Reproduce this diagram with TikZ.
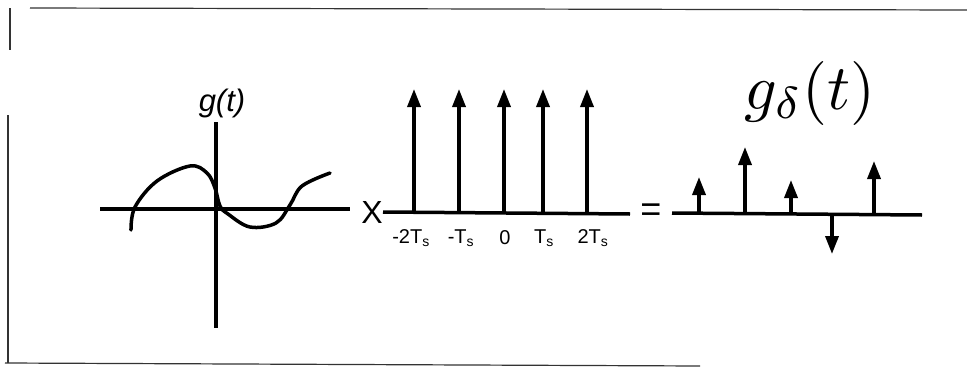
\documentclass[tikz,border=0pt]{standalone}
\usepackage{fontspec}
\setmainfont{Liberation Sans}
\usetikzlibrary{arrows.meta}
\tikzset{
  axis/.style={line width=3.5pt},
  spike/.style={line width=3.5pt,-{Triangle[length=18pt,width=13pt]}},
  frame/.style={line width=1.2pt,black!80},
  tick/.style={font=\fontsize{20}{20}\selectfont,inner sep=0pt}
}
\begin{document}
\begin{tikzpicture}[x=1pt,y=-1pt]
\useasboundingbox (0,0) rectangle (967,367);
% scanned page border
\draw[frame] (30,8)--(967,10);
\draw[frame] (10,8)--(10,50);
\draw[frame] (8,115)--(8,363);
\draw[frame] (5,363)--(700,366);

% left: g(t)
\node[font=\fontsize{31}{31}\selectfont\itshape,inner sep=0pt] (glab) at (222,103) {g(t)};
\draw[axis] (100,209)--(350,209);
\draw[axis] (216,122)--(216,328);
\draw[line width=3.5pt,line cap=round] plot[smooth,tension=0.6] coordinates
  {(131,230) (135,207) (157,181) (190,166) (207,173) (215,188) (220,206) (228,214) (250,227) (276,223) (290,205) (302,186) (330,173)};

% times
\node[font=\fontsize{32}{32}\selectfont,inner sep=0pt] (times) at (372,212) {X};

% middle: impulse train
\draw[axis] (383,212)--(630,214);
\foreach \xv/\tx/\lv in {414/411/{-2T\textsubscript{s}},459/461/{-T\textsubscript{s}},504/505/{0},543/544/{T\textsubscript{s}},587/593/{2T\textsubscript{s}}}{
  \draw[spike] (\xv,213)--(\xv,89);
  \node[tick] at (\tx,238) {\lv};
}

% equals
\node[font=\fontsize{36}{36}\selectfont,inner sep=0pt] (eq) at (651,213) {=};

% right: sampled signal
\node[inner sep=0pt,scale=6.4] (gdlab) at (810,93) {$g_\delta(t)$};
\draw[axis] (672,213)--(922,215);
\foreach \xv/\yv in {699/177,745/147,791/180,832/254,874/161}{
  \draw[spike] (\xv,214)--(\xv,\yv);
}
\end{tikzpicture}
\end{document}
